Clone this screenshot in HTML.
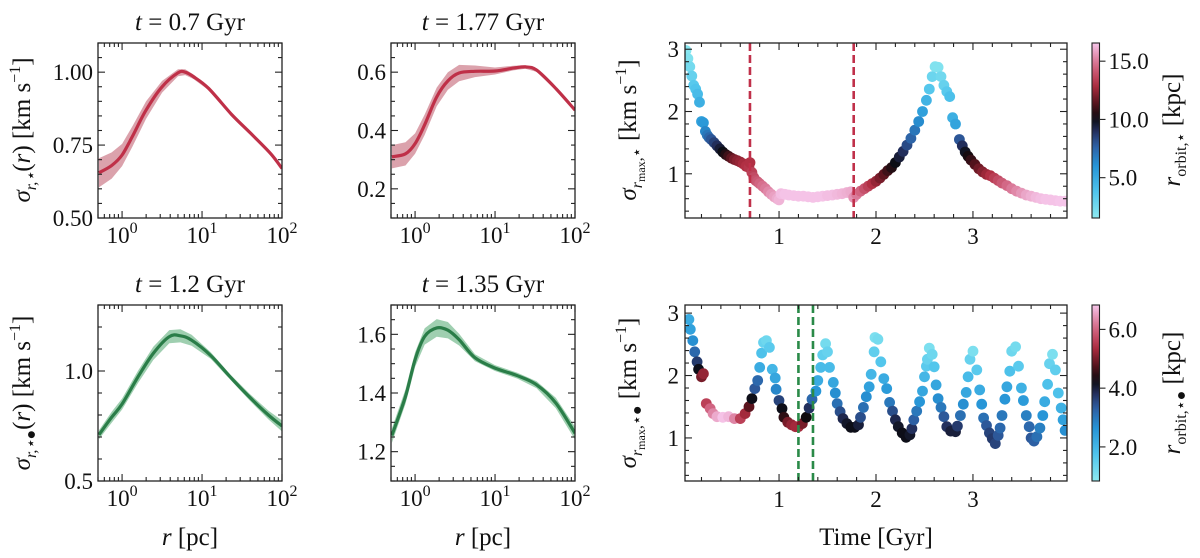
<!DOCTYPE html>
<html><head><meta charset="utf-8">
<style>
html,body{margin:0;padding:0;background:#fff;}
svg{display:block;font-family:"Liberation Serif","DejaVu Serif",serif;}
</style></head>
<body>
<svg id="fig" width="1200" height="558" viewBox="0 0 1200 558" xmlns="http://www.w3.org/2000/svg"></svg>
<script>
// ---------- Data: radial profiles (log10 r, sigma, band half-width) ----------
const p1LogR = [-0.29,-0.13,0,0.13,0.3,0.5,0.7,0.79,0.89,1.08,1.37,1.61,1.86,2.0];
const p1Sig  = [0.655,0.68,0.716,0.78,0.87,0.95,0.998,1.0,0.985,0.945,0.855,0.79,0.72,0.67];
const p1Err  = [0.05,0.045,0.038,0.035,0.03,0.02,0.012,0.01,0.008,0.006,0.005,0.005,0.006,0.006];

const p2LogR = [-0.29,-0.12,0,0.12,0.27,0.41,0.55,0.75,1.0,1.23,1.38,1.52,1.76,2.0];
const p2Sig  = [0.31,0.32,0.355,0.42,0.515,0.57,0.597,0.603,0.604,0.614,0.618,0.607,0.544,0.47];
const p2Err  = [0.04,0.04,0.035,0.035,0.032,0.03,0.028,0.02,0.012,0.008,0.006,0.006,0.006,0.006];

const p3LogR = [-0.29,-0.13,0,0.2,0.39,0.59,0.73,0.87,1.11,1.35,1.59,1.83,2.0];
const p3Sig  = [0.71,0.79,0.85,0.974,1.08,1.156,1.16,1.14,1.07,0.974,0.883,0.8,0.75];
const p3Err  = [0.02,0.025,0.025,0.028,0.03,0.03,0.03,0.025,0.015,0.012,0.015,0.02,0.025];

const p4LogR = [-0.29,-0.12,0,0.12,0.27,0.41,0.55,0.75,1.0,1.28,1.52,1.76,2.0];
const p4Sig  = [1.255,1.388,1.514,1.593,1.622,1.614,1.582,1.52,1.485,1.459,1.428,1.366,1.263];
const p4Err  = [0.025,0.025,0.025,0.028,0.03,0.028,0.02,0.012,0.01,0.01,0.012,0.018,0.022];

// ---------- Data: top scatter (stars) ----------
const topTime = [0.04,0.06,0.08,0.10,0.12,0.14,0.16,0.18,0.20,0.22,0.24,0.26,0.28,0.30,0.33,0.36,0.39,0.42,0.45,0.48,0.51,0.54,0.57,0.60,0.63,0.66,0.69,0.70,0.72,0.74,0.76,0.78,0.80,0.83,0.86,0.89,0.92,0.95,0.98,1.00,1.02,1.06,1.10,1.15,1.20,1.25,1.30,1.35,1.40,1.45,1.50,1.55,1.60,1.65,1.70,1.74,1.77,1.80,1.84,1.88,1.92,1.96,2.00,2.04,2.08,2.12,2.16,2.20,2.24,2.28,2.32,2.36,2.40,2.44,2.48,2.52,2.55,2.58,2.61,2.64,2.67,2.70,2.73,2.76,2.79,2.82,2.86,2.89,2.92,2.95,2.98,3.02,3.06,3.10,3.14,3.18,3.22,3.26,3.30,3.35,3.40,3.45,3.50,3.55,3.60,3.65,3.70,3.75,3.80,3.85,3.90,3.95];
const topSigma = [2.98,2.85,2.72,2.57,2.42,2.36,2.28,2.15,1.84,1.82,1.68,1.62,1.58,1.55,1.50,1.45,1.40,1.35,1.31,1.28,1.25,1.23,1.21,1.19,1.16,1.12,1.10,1.18,1.02,0.94,0.89,0.87,0.84,0.80,0.76,0.71,0.67,0.63,0.60,0.58,0.68,0.67,0.66,0.65,0.64,0.64,0.63,0.62,0.63,0.64,0.65,0.66,0.67,0.68,0.70,0.71,0.62,0.67,0.72,0.76,0.80,0.84,0.88,0.93,0.99,1.05,1.10,1.18,1.27,1.36,1.46,1.57,1.70,1.84,2.00,2.18,2.36,2.56,2.72,2.71,2.56,2.42,2.32,2.24,1.90,1.80,1.55,1.45,1.35,1.28,1.22,1.15,1.08,1.03,0.99,0.97,0.93,0.89,0.85,0.81,0.76,0.72,0.69,0.66,0.64,0.62,0.60,0.59,0.58,0.57,0.56,0.56];
const topROrbit = [1.8,2,2.5,3,3.5,3.8,4.2,4.8,5.5,5.8,6.5,7,7.5,8,8.5,9,9.5,10,10.5,11,11.5,12,12.3,12.5,12.8,13,13.2,13,13.5,13.8,14,14.2,14.5,14.8,15,15.3,15.6,15.8,16,16.2,16.4,16.5,16.5,16.5,16.5,16.5,16.5,16.5,16.5,16.5,16.4,16.4,16.3,16.2,16.1,16,15.5,15,14.5,14,13.5,13,12.5,12,11.5,11,10.5,10,9.5,9,8.3,7.6,7,6.3,5.5,4.6,3.6,2.8,2,2,2.6,3,3.5,4,4.8,5.3,8,9,9.8,10.3,10.8,11.3,11.8,12.2,12.6,13,13.4,13.8,14.2,14.6,15,15.3,15.6,15.9,16.1,16.3,16.4,16.5,16.5,16.5,16.6,16.6];
const topMarks = [0.7,1.77];

// ---------- Data: bottom scatter (stars + BH) ----------
const botTime = [0.07,0.085,0.11,0.13,0.155,0.17,0.2,0.22,0.25,0.29,0.32,0.36,0.42,0.48,0.54,0.6,0.65,0.69,0.72,0.75,0.78,0.8,0.82,0.84,0.87,0.9,0.93,0.96,0.97,1.0,1.03,1.05,1.09,1.13,1.17,1.2,1.24,1.28,1.31,1.34,1.38,1.4,1.43,1.45,1.48,1.5,1.52,1.56,1.58,1.6,1.63,1.66,1.7,1.74,1.78,1.82,1.84,1.87,1.9,1.93,1.95,1.98,1.99,2.02,2.05,2.08,2.11,2.14,2.17,2.2,2.23,2.27,2.31,2.35,2.37,2.39,2.42,2.45,2.48,2.5,2.52,2.53,2.55,2.58,2.6,2.62,2.64,2.67,2.7,2.73,2.77,2.82,2.84,2.87,2.9,2.93,2.95,2.97,3.0,3.04,3.07,3.09,3.11,3.14,3.17,3.2,3.23,3.26,3.28,3.3,3.33,3.35,3.38,3.4,3.44,3.47,3.5,3.52,3.55,3.58,3.6,3.63,3.66,3.69,3.72,3.74,3.77,3.79,3.82,3.85,3.88,3.91,3.93,3.95];
const botSigma = [2.9,2.74,2.56,2.38,2.22,2.1,1.98,2.03,1.55,1.47,1.39,1.34,1.33,1.34,1.31,1.31,1.39,1.5,1.63,1.79,1.92,2.13,2.36,2.53,2.56,2.45,2.1,1.96,1.78,1.6,1.47,1.33,1.25,1.21,1.18,1.18,1.23,1.33,1.48,1.62,1.75,1.92,2.13,2.33,2.51,2.38,2.13,1.89,1.72,1.55,1.42,1.31,1.23,1.17,1.17,1.21,1.33,1.49,1.66,1.82,2.02,2.38,2.61,2.58,2.22,1.95,1.79,1.57,1.43,1.29,1.18,1.08,1.01,1.05,1.15,1.29,1.43,1.58,1.75,1.98,2.15,2.26,2.44,2.34,2.14,1.85,1.63,1.49,1.34,1.18,1.11,1.1,1.19,1.36,1.54,1.73,1.98,2.26,2.39,2.09,1.77,1.54,1.32,1.2,1.08,0.99,0.91,1.04,1.16,1.36,1.62,1.82,2.07,2.39,2.46,2.15,1.8,1.6,1.36,1.18,1.0,0.95,1.02,1.16,1.36,1.58,1.86,2.19,2.34,2.09,1.72,1.48,1.29,1.12];
const botROrbit = [2.2,2.4,2.7,3.2,3.7,4.2,5.0,5.2,5.6,6.0,6.3,6.6,6.8,6.7,6.3,5.6,5.3,4.8,4.2,3.4,3.2,2.2,1.8,1.4,1.3,1.6,2.0,2.3,2.8,3.6,4.2,4.5,5.0,5.2,5.3,5.3,5.0,4.3,3.8,3.2,2.6,2.2,1.9,1.5,1.2,1.4,1.9,2.3,2.7,3.1,3.5,3.9,4.1,4.2,4.2,4.0,3.5,3.1,2.7,2.4,2.0,1.5,1.1,1.2,1.7,2.2,2.5,3.0,3.5,3.9,4.1,4.2,4.2,4.1,3.8,3.3,3.0,2.6,2.3,2.0,1.6,1.4,1.1,1.3,1.7,2.3,2.7,3.0,3.4,3.8,4.0,4.0,3.7,3.1,2.7,2.3,1.9,1.4,1.1,1.6,2.2,2.6,3.1,3.4,3.6,3.7,3.6,3.4,3.2,3.0,2.6,2.3,1.8,1.3,1.2,1.6,2.1,2.5,2.9,3.2,3.4,3.3,3.1,2.9,2.6,2.2,1.8,1.4,1.1,1.5,1.8,2.1,2.4,2.7];
const botMarks = [1.2,1.35];

// ---------- helpers ----------
const NS = "http://www.w3.org/2000/svg";
const svg = document.getElementById('fig');
function mk(tag, attrs, parent){ const e=document.createElementNS(NS,tag); for(const k in attrs) e.setAttribute(k,attrs[k]); (parent||svg).appendChild(e); return e; }

const cmapStops = [[0,[142,234,240]],[0.15,[80,196,236]],[0.3,[38,148,214]],[0.42,[46,92,160]],[0.5,[34,44,88]],[0.57,[10,10,14]],[0.66,[90,20,30]],[0.76,[176,46,66]],[0.88,[214,110,140]],[1,[246,198,234]]];
function cmap(v){ v=Math.max(0,Math.min(1,v)); for(let i=1;i<cmapStops.length;i++){ const a=cmapStops[i-1],b=cmapStops[i]; if(v<=b[0]){ const f=(v-a[0])/(b[0]-a[0]); const c=a[1].map((x,j)=>Math.round(x+(b[1][j]-x)*f)); return `rgb(${c[0]},${c[1]},${c[2]})`; } } return 'rgb(246,198,234)'; }

const TXT = {fill:'#111','font-size':23};

function frame(g, x0,y0,w,h){
  const r = mk('rect',{x:x0,y:y0,width:w,height:h,fill:'none',stroke:'#222','stroke-width':1.3},g);
  
  
}
function tick(g,x1,y1,x2,y2){ mk('line',{x1,y1,x2,y2,stroke:'#222','stroke-width':1.1},g); }

// ---------- profile panel ----------
function profilePanel(name, x0,y0,w,h, ymin,ymax, yMajor, yMinorStep, yFmt, logR, sig, err, line, band, title){
  const g = mk('g',{});
  
  
  const lmin=Math.log10(0.5), lmax=2;
  const X = l => x0 + (l-lmin)/(lmax-lmin)*w;
  const Y = v => y0 + h - (v-ymin)/(ymax-ymin)*h;
  const clip = 'clip-'+name;
  const cp = mk('clipPath',{id:clip},g); mk('rect',{x:x0,y:y0,width:w,height:h},cp);
  let d='';
  logR.forEach((l,i)=>{ d += (i?'L':'M')+X(l).toFixed(1)+','+Y(sig[i]+err[i]).toFixed(1); });
  for(let i=logR.length-1;i>=0;i--) d += 'L'+X(logR[i]).toFixed(1)+','+Y(sig[i]-err[i]).toFixed(1);
  const b = mk('path',{d:d+'Z',fill:band,stroke:'none','clip-path':`url(#${clip})`},g);
  
  
  const pts = logR.map((l,i)=>[X(l),Y(sig[i])]);
  let p = 'M'+pts[0][0]+','+pts[0][1];
  for(let i=0;i<pts.length-1;i++){
    const p0=pts[Math.max(0,i-1)],p1=pts[i],p2=pts[i+1],p3=pts[Math.min(pts.length-1,i+2)];
    const c1=[p1[0]+(p2[0]-p0[0])/6,p1[1]+(p2[1]-p0[1])/6], c2=[p2[0]-(p3[0]-p1[0])/6,p2[1]-(p3[1]-p1[1])/6];
    p+=`C${c1[0].toFixed(1)},${c1[1].toFixed(1)} ${c2[0].toFixed(1)},${c2[1].toFixed(1)} ${p2[0].toFixed(1)},${p2[1].toFixed(1)}`;
  }
  const ln = mk('path',{d:p,fill:'none',stroke:line,'stroke-width':3.2,'clip-path':`url(#${clip})`},g);
  
  
  frame(g,x0,y0,w,h);
  for(let e=-1;e<=1;e++){ for(let m=1;m<=9;m++){ const v=m*Math.pow(10,e); const l=Math.log10(v); if(l<lmin-1e-9||l>lmax+1e-9) continue; const L=(m===1)?7:4; tick(g,X(l),y0+h,X(l),y0+h-L); tick(g,X(l),y0,X(l),y0+L);} }
  tick(g,X(2),y0+h,X(2),y0+h-7); tick(g,X(2),y0,X(2),y0+7);
  [0,1,2].forEach(e=>{ const t=mk('text',Object.assign({x:X(e),y:y0+h+25,'text-anchor':'middle'},TXT),g);   t.textContent='10'; const s=mk('tspan',{dy:-10,'font-size':16},t); s.textContent=String(e); });
  for(let v=ymin; v<=ymax+1e-9; v+=yMinorStep){ const vv=Math.round(v*1000)/1000; const isMaj = yMajor.some(m=>Math.abs(m-vv)<1e-6); const L=isMaj?7:4; tick(g,x0,Y(vv),x0+L,Y(vv)); tick(g,x0+w,Y(vv),x0+w-L,Y(vv)); }
  yMajor.forEach(v=>{ const t=mk('text',Object.assign({x:x0-5,y:Y(v)+8,'text-anchor':'end'},TXT),g);   t.textContent=yFmt(v); });
  const tt=mk('text',{x:x0+w/2,y:y0-13,'text-anchor':'middle',fill:'#111','font-size':25},g);
   
  const ti=mk('tspan',{'font-style':'italic'},tt); ti.textContent='t'; const tr=mk('tspan',{},tt); tr.textContent=' = '+title+' Gyr';
}

profilePanel('profile-t0.7',98,43,184,175,0.5,1.1,[0.5,0.75,1.0],0.05,v=>v.toFixed(2),p1LogR,p1Sig,p1Err,'#bf3048','#dba2ac','0.7');
profilePanel('profile-t1.77',391,43,184,175,0.1,0.7,[0.2,0.4,0.6],0.05,v=>v.toFixed(1),p2LogR,p2Sig,p2Err,'#bf3048','#dba2ac','1.77');
profilePanel('profile-t1.2',98,305,184,176,0.5,1.3,[0.5,1.0],0.1,v=>v.toFixed(1),p3LogR,p3Sig,p3Err,'#2a7d48','#9fcfb0','1.2');
profilePanel('profile-t1.35',391,305,184,176,1.1,1.7,[1.2,1.4,1.6],0.05,v=>v.toFixed(1),p4LogR,p4Sig,p4Err,'#2a7d48','#9fcfb0','1.35');

// ---------- scatter panel ----------
function scatterPanel(name,x0,y0,w,h,ymin,ymax,times,sigmas,rorb,cmin,cmax,marks,markColor,cbTicks){
  const g = mk('g',{});
  
  
  const tmin=0.03,tmax=3.97;
  const X=t=>x0+(t-tmin)/(tmax-tmin)*w;
  const Y=v=>y0+h-(v-ymin)/(ymax-ymin)*h;
  const clip='clip-'+name;
  const cp=mk('clipPath',{id:clip},g); mk('rect',{x:x0,y:y0,width:w,height:h},cp);
  const n=Math.min(times.length,sigmas.length,rorb.length);
  for(let i=0;i<n;i++){
    const c=mk('circle',{cx:X(times[i]).toFixed(1),cy:Y(sigmas[i]).toFixed(1),r:5.4,fill:cmap((rorb[i]-cmin)/(cmax-cmin)),'clip-path':`url(#${clip})`},g);
    
    
  }
  marks.forEach(m=>{ const l=mk('line',{x1:X(m),y1:y0,x2:X(m),y2:y0+h,stroke:markColor,'stroke-width':2.6,'stroke-dasharray':'8,4'},g);   });
  frame(g,x0,y0,w,h);
  for(let k=0;k<=20;k++){ const t=k*0.2; if(t<tmin||t>tmax) continue; const L=(k%5===0)?7:4; tick(g,X(t),y0+h,X(t),y0+h-L); tick(g,X(t),y0,X(t),y0+L); }
  [1,2,3].forEach(v=>{ const t=mk('text',Object.assign({x:X(v),y:y0+h+26,'text-anchor':'middle'},TXT),g);   t.textContent=String(v); });
  for(let k=0;k<=16;k++){ const v=k*0.2; if(v<ymin||v>ymax) continue; const L=(k%5===0)?7:4; tick(g,x0,Y(v),x0+L,Y(v)); tick(g,x0+w,Y(v),x0+w-L,Y(v)); }
  [1,2,3].forEach(v=>{ const t=mk('text',Object.assign({x:x0-6,y:Y(v)+8,'text-anchor':'end'},TXT),g);   t.textContent=String(v); });
  const cbx=1092, cbw=7.5;
  const gid='grad-'+name;
  const defs=mk('defs',{},g);
  const lg=mk('linearGradient',{id:gid,x1:0,y1:1,x2:0,y2:0},defs);
  for(let k=0;k<=20;k++){ mk('stop',{offset:k/20,'stop-color':cmap(k/20)},lg); }
  const cb=mk('rect',{x:cbx,y:y0,width:cbw,height:h,fill:`url(#${gid})`,stroke:'#222','stroke-width':1.1},g);
   
  const CY=v=>y0+h-(v-cmin)/(cmax-cmin)*h;
  cbTicks.forEach(v=>{ tick(g,cbx+cbw,CY(v),cbx+cbw+6,CY(v)); const t=mk('text',Object.assign({x:cbx+cbw+9,y:CY(v)+8},TXT),g);   t.textContent=v.toFixed(1); });
}
scatterPanel('scatter-stars',685,43,382,175,0.29,3.1,topTime,topSigma,topROrbit,1.54,16.56,topMarks,'#c0304a',[5,10,15]);
scatterPanel('scatter-stars-bh',685,305,382,176,0.31,3.13,botTime,botSigma,botROrbit,0.84,6.83,botMarks,'#2a8a48',[2,4,6]);

// ---------- axis labels ----------
function rotLabel(name,cx,cy,parts){
  const t=mk('text',{x:0,y:0,transform:`translate(${cx},${cy}) rotate(-90)`,'text-anchor':'middle',fill:'#111','font-size':25});
  
  
  parts.forEach(p=>{ const s=mk('tspan',p[1]||{},t); s.textContent=p[0]; });
}
rotLabel('y-axis-title-stars',30,130,[['σ',{'font-style':'italic'}],['r,⋆',{'font-size':16,dy:6,'font-style':'italic'}],['(',{dy:-6}],['r',{'font-style':'italic'}],[')  [km s']  ,['−1',{'font-size':16,dy:-10}],[']',{dy:10}]]);
rotLabel('y-axis-title-stars-bh',30,393,[['σ',{'font-style':'italic'}],['r,⋆●',{'font-size':16,dy:6,'font-style':'italic'}],['(',{dy:-6}],['r',{'font-style':'italic'}],[')  [km s'],['−1',{'font-size':16,dy:-10}],[']',{dy:10}]]);
rotLabel('y-axis-title-rmax-stars',636,130,[['σ',{'font-style':'italic'}],['r',{'font-size':16,dy:6,'font-style':'italic'}],['max',{'font-size':12,dy:3}],[',⋆',{'font-size':16,dy:-3}],['  [km s',{dy:-6}],['−1',{'font-size':16,dy:-10}],[']',{dy:10}]]);
rotLabel('y-axis-title-rmax-stars-bh',636,393,[['σ',{'font-style':'italic'}],['r',{'font-size':16,dy:6,'font-style':'italic'}],['max',{'font-size':12,dy:3}],[',⋆●',{'font-size':16,dy:-3}],['  [km s',{dy:-6}],['−1',{'font-size':16,dy:-10}],[']',{dy:10}]]);
rotLabel('colorbar-title-stars',1180,130,[['r',{'font-style':'italic'}],['orbit,⋆',{'font-size':16,dy:6}],['  [kpc]',{dy:-6}]]);
rotLabel('colorbar-title-stars-bh',1180,393,[['r',{'font-style':'italic'}],['orbit,⋆●',{'font-size':16,dy:6}],['  [kpc]',{dy:-6}]]);

function xLabel(name,cx,parts){
  const t=mk('text',{x:cx,y:545,'text-anchor':'middle',fill:'#111','font-size':25});
  
  
  parts.forEach(p=>{ const s=mk('tspan',p[1]||{},t); s.textContent=p[0]; });
}
xLabel('x-axis-title-radius-left',190,[['r',{'font-style':'italic'}],['  [pc]']]);
xLabel('x-axis-title-radius-mid',483,[['r',{'font-style':'italic'}],['  [pc]']]);
xLabel('x-axis-title-time',876,[['Time  [Gyr]']]);
</script>
</body></html>
